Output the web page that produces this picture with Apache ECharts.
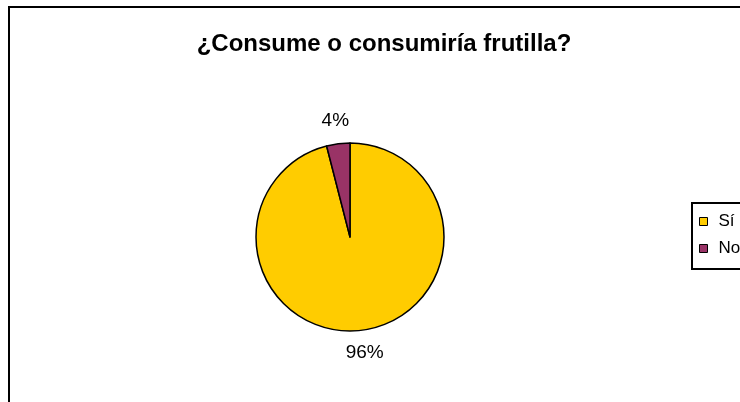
<!DOCTYPE html>
<html>
<head>
<meta charset="utf-8">
<script src="https://cdn.jsdelivr.net/npm/echarts@6/dist/echarts.min.js"></script>
<style>
  html, body { margin: 0; padding: 0; background: #fff; }
  #chart { width: 740px; height: 402px; }
</style>
</head>
<body>
<div id="chart"></div>
<script>
// Survey answers and their share of respondents (%)
const answers = ['Sí', 'No'];
const shares = [96, 4];
const sliceColors = ['#FFCC00', '#993366'];

const FONT = 'Arial, "Liberation Sans", sans-serif';

const pieData = answers.map((name, i) => ({
  name: name,
  value: shares[i],
  itemStyle: { color: sliceColors[i] }
}));

const chart = echarts.init(document.getElementById('chart'), null, { renderer: 'canvas' });

chart.setOption({
  backgroundColor: '#fff',
  animation: false,
  title: {
    text: '¿Consume o consumiría frutilla?',
    left: 379,
    top: 27,
    textAlign: 'center',
    textStyle: { fontFamily: FONT, fontSize: 24, fontWeight: 'bold', color: '#000' }
  },
  legend: {
    data: answers,
    orient: 'vertical',
    left: 692,
    top: 203,
    padding: [10, 60, 12, 7],
    borderColor: '#000',
    borderWidth: 2,
    icon: 'rect',
    itemWidth: 8,
    itemHeight: 8,
    itemGap: 10,
    itemStyle: { borderColor: '#000', borderWidth: 1 },
    // legend puts a fixed 5px between icon and text; pad the text for a wider gap
    textStyle: { fontFamily: FONT, fontSize: 17, color: '#000', padding: [0, 0, 0, 6] }
  },
  graphic: [{
    type: 'rect',
    shape: { x: 9, y: 7, width: 800, height: 500 },
    style: { fill: 'none', stroke: '#000', lineWidth: 2 },
    silent: true,
    z: -1
  }],
  series: [
    {
      type: 'pie',
      center: [350, 237],
      radius: 94,
      startAngle: 90,
      clockwise: true,
      label: { show: false },
      labelLine: { show: false },
      itemStyle: { borderColor: '#000', borderWidth: 1.5 },
      emphasis: { disabled: true },
      data: pieData
    },
    {
      // transparent ring carrying the percentage labels just outside the pie
      type: 'pie',
      center: [350, 237],
      radius: [107, 121],
      startAngle: 90,
      clockwise: true,
      silent: true,
      itemStyle: { color: 'rgba(0,0,0,0)', borderWidth: 0 },
      label: {
        show: true,
        position: 'inside',
        formatter: '{d}%',
        fontFamily: FONT,
        fontSize: 19,
        color: '#000'
      },
      labelLine: { show: false },
      emphasis: { disabled: true },
      data: answers.map((name, i) => ({ name: name, value: shares[i] }))
    }
  ]
});
</script>
</body>
</html>
